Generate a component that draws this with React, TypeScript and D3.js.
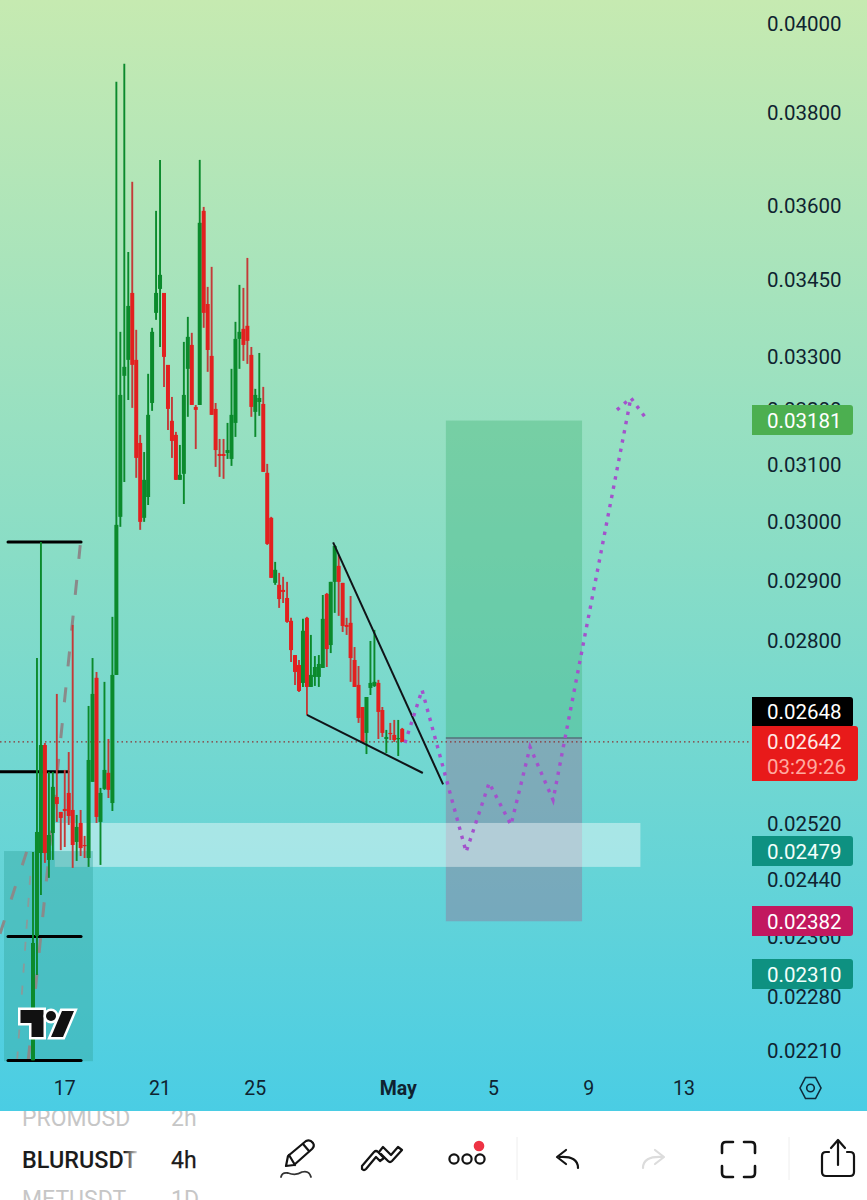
import React from "react";
import * as d3 from "d3";

// Prices are in millionths (0.026420 => 26420). One 4h candle per index.
const PRICE_UNIT = 1e-6;
const opens = [21982,23619,24778,26373,24679,25066,25593,25373,25417,25653,25402,24937,25212,24893,24707,25818,27417,25227,25713,25953,25504,27463,30089,32643,32945,34244,32945,31401,30072,30436,32135,33852,34324,34244,32850,31805,31548,30739,30846,32775,33231,32062,32098,35907,34026,33021,32025,31202,31202,31220,31113,31767,33347,33541,33600,33040,31970,32153,32117,30864,30072,28963,28930,28845,28711,28335,27780,27621,27336,28384,27273,27431,27431,27574,28778,27941,28980,29249,28963,28267,28302,27701,27305,26959,26558,27257,27289,27336,26912,26465,26558,26527,26465,26620];
const highs = [24792,27732,29656,26404,25968,25968,27163,25373,25996,26266,28268,25329,25402,25024,26975,27732,27510,25728,27353,26465,28400,38685,33483,39090,35064,36515,33522,31548,31237,32681,33561,35907,36980,34244,32850,32247,31603,31365,33289,33774,33464,32098,36980,35989,34364,34764,32135,31474,31474,31767,32775,33677,34404,34344,34944,33192,32398,33077,32435,31024,30089,29316,29131,29064,28980,28384,27780,27701,28367,28400,28105,27764,27780,28761,28795,28980,29605,29434,28963,28384,28744,27909,27605,26959,27115,28007,28187,27385,26959,26604,26712,26758,26758,26635];
const lows = [21982,23092,24184,24637,24425,24679,25227,24820,24864,25183,24566,24665,24735,24707,24580,25818,25212,24608,25698,25578,25387,27463,29916,30703,32190,32044,30775,29864,30002,30296,31989,33716,33192,32435,31639,31131,30739,30739,30313,31879,32098,31291,32098,33561,32718,31915,30970,30792,30757,31113,30988,31511,32775,32926,32869,31879,31511,31897,30881,29605,29047,28930,28547,28628,28302,27669,27305,27194,27273,26835,27273,27289,27273,27574,27589,27812,28465,28416,28153,28105,27353,27273,26712,26404,26236,27146,27273,26465,26496,26251,26450,26419,26206,26419];
const closes = [23523,25081,26373,24778,25037,25743,25490,25285,25387,25314,24893,25154,24849,24878,26146,27163,25300,25653,25996,25698,27463,29950,32285,32813,33988,32850,31131,30002,30739,31915,33483,34244,34604,33002,32025,31438,30739,30828,32285,33386,32098,32007,35660,33852,33134,31915,31273,31166,31166,31273,31915,33347,33483,33231,33309,32062,32285,32228,30881,29622,29047,29182,28694,28811,28318,27860,27510,27210,28172,27273,27463,27589,27637,28367,27876,28980,29587,28980,28251,28235,27732,27273,26789,26404,27115,27336,27353,26882,26558,26496,26542,26450,26480,26419];

const axisTicks = [0.04,0.038,0.036,0.0345,0.033,0.032,0.031,0.03,0.029,0.028,0.0252,0.0244,0.0236,0.0228,0.0221];
const dateTicks = [
  { i: 8, label: "17", bold: false },
  { i: 32, label: "21", bold: false },
  { i: 56, label: "25", bold: false },
  { i: 92, label: "May", bold: true },
  { i: 116, label: "5", bold: false },
  { i: 140, label: "9", bold: false },
  { i: 164, label: "13", bold: false },
];
const lastPrice = 0.02642;
const target = 0.03181, entry = 0.02648, stop = 0.02382;
const positionSpan = [104, 138.3];
const zoneSpan = [5.5, 153];
const zonePrices = [0.025212, 0.02458];
const boxSpan = [-7.3, 15.1];
const boxPrices = [0.024806, 0.02197];
const fibLevels = [
  { p: 0.029656, i0: -6.3, i1: 12.1 },
  { p: 0.025968, i0: -8.4, i1: 8.8 },
  { p: 0.023612, i0: -6.3, i1: 12.1 },
  { p: 0.02198, i0: -6.3, i1: 12.1 },
];
const trendUpper = [[75.6, 0.02965], [103.3, 0.02578]];
const trendLower = [[69, 0.026835], [98.2, 0.02595]];
const grayThick = [[-8.3, 0.02365], [-1.3, 0.02485], [1.6, 0.02490]];
const grayMain = [[-1.2, 0.02198], [11.9, 0.02960]];
const grayThin = [[-4, 0.02198], [-0.5, 0.0246]];
const purplePath = [[93.7,0.026404],[98,0.027226],[109.1,0.024792],[114.9,0.025803],[120.4,0.025183],[125.2,0.026342],[131,0.025548],[150.6,0.032228]];
const purpleArrow = [[147.1,0.032007],[150.6,0.032228],[154.7,0.031824]];
const priceTags = [
  { text: "0.03181", top: 405, h: 30, w: 101, color: "#4caf50", textColor: "#fff" },
  { text: "0.02479", top: 836, h: 30, w: 101, color: "#0e9181", textColor: "#f2fffb" },
  { text: "0.02382", top: 906, h: 30, w: 101, color: "#c2185f", textColor: "#fff" },
  { text: "0.02310", top: 959, h: 30, w: 101, color: "#0e9181", textColor: "#f2fffb" },
];

const W = 867, H = 1200, PANE_BOTTOM = 1111;
const FONT = "Roboto, sans-serif";

const x = d3.scaleLinear().domain([0, 93]).range([33, 402.2]);
const y = d3.scaleLog().domain([0.0221, 0.04]).range([1051, 24]);
const lineGen = d3.line<number[]>().x((d) => x(d[0])).y((d) => y(d[1]));
const UP = "#0b8a2c", DOWN = "#e2201f", DOWN_WICK = "#c43a38";

function Candles() {
  return (
    <g>
      {opens.map((o, i) => {
        const c = closes[i];
        const up = c >= o;
        const yTop = y(Math.max(o, c) * PRICE_UNIT);
        const yBot = y(Math.min(o, c) * PRICE_UNIT);
        return (
          <g key={i}>
            <line x1={x(i)} x2={x(i)} y1={y(highs[i] * PRICE_UNIT)} y2={y(lows[i] * PRICE_UNIT)}
              stroke={up ? UP : DOWN_WICK} strokeWidth={1.9} />
            <rect x={x(i) - 2} width={4} y={yTop} height={Math.max(yBot - yTop, 1.2)} fill={up ? UP : DOWN} />
          </g>
        );
      })}
    </g>
  );
}

function tagPath(x0: number, top: number, w: number, h: number, r = 3) {
  const p = d3.path();
  p.moveTo(x0, top);
  p.lineTo(x0 + w - r, top);
  p.quadraticCurveTo(x0 + w, top, x0 + w, top + r);
  p.lineTo(x0 + w, top + h - r);
  p.quadraticCurveTo(x0 + w, top + h, x0 + w - r, top + h);
  p.lineTo(x0, top + h);
  p.closePath();
  return p.toString();
}

function Toolbar() {
  const s = { fill: "none", stroke: "#131313", strokeWidth: 2.2, strokeLinecap: "round" as const, strokeLinejoin: "round" as const };
  return (
    <g>
      <g {...s}>
        <path d="M286 1166 L288 1156 L306 1141 Q310 1139 313 1143 Q315 1146 312 1149 L294 1165 Z" />
        <path d="M289 1155 L295 1165 M303 1144 L309 1151" />
        <path d="M281 1177 Q282 1172 288 1173 Q296 1176 302 1172 Q309 1170 311 1177" strokeWidth={1.8} stroke="#333" />
      </g>
      <g {...s}>
        <path d="M362 1166 L374 1152 Q376 1150 378 1152 L384 1158 L380 1161 L376 1157 L366 1169 Q364 1171 362 1169 Z" />
        <path d="M379 1152 L383 1147 L391 1155 L398 1147 L402 1150 L392 1161 Q390 1163 388 1161 L381 1154" />
      </g>
      <g {...s}>
        {[454, 467, 480].map((cx) => <circle key={cx} cx={cx} cy={1159} r={4.6} />)}
      </g>
      <circle cx={479} cy={1146} r={5.3} fill="#ee3344" />
      <line x1={517} x2={517} y1={1137} y2={1180} stroke="#eeeeee" strokeWidth={1} />
      <g {...s}>
        <path d="M578 1168 Q578 1156 560 1157 M566 1150 L557 1157 L566 1164" />
      </g>
      <g {...s} stroke="#dcdcdc">
        <path d="M643 1168 Q643 1156 662 1157 M655 1150 L664 1157 L655 1164" />
      </g>
      <g {...s} strokeWidth={2.6}>
        <path d="M722 1153 V1146 Q722 1142 726 1142 H733 M744 1142 H751 Q755 1142 755 1146 V1153 M755 1166 V1173 Q755 1177 751 1177 H744 M733 1177 H726 Q722 1177 722 1173 V1166" />
      </g>
      <line x1={789} x2={789} y1={1137} y2={1180} stroke="#eeeeee" strokeWidth={1} />
      <g {...s}>
        <path d="M838 1165 V1141 M831 1148 L838 1140 L845 1148" />
        <path d="M829 1152 H826 Q822 1152 822 1156 V1172 Q822 1176 826 1176 H850 Q854 1176 854 1172 V1156 Q854 1152 850 1152 H847" />
      </g>
    </g>
  );
}

export default function App() {
  return (
    <svg width={W} height={H} viewBox={`0 0 ${W} ${H}`} style={{ position: "absolute", left: 0, top: 0, background: "#fff" }}
      fontFamily={FONT}>
      <defs>
        <linearGradient id="bg" x1="0" y1="0" x2="0" y2="1">
          <stop offset="0" stopColor="#c6eab1" />
          <stop offset="0.5" stopColor="#89ddc6" />
          <stop offset="1" stopColor="#4acde4" />
        </linearGradient>
        <linearGradient id="fadeSym" gradientUnits="userSpaceOnUse" x1="124" x2="139" y1="0" y2="0">
          <stop offset="0" stopColor="#1b1b1b" />
          <stop offset="1" stopColor="#1b1b1b" stopOpacity="0.08" />
        </linearGradient>
      </defs>

      {/* watchlist behind the chart pane */}
      <g fontSize={23} fill="#b9b9b9" opacity={0.8}>
        <text x={22} y={1126}>PROMUSD</text>
        <text x={171} y={1126}>2h</text>
        <text x={22} y={1207}>METUSDT</text>
        <text x={171} y={1207}>1D</text>
      </g>
      <text x={22} y={1168} fontSize={23.4} fontWeight={500} fill="url(#fadeSym)">BLURUSDT</text>
      <text x={171} y={1168} fontSize={23} fill="#1b1b1b" stroke="#1b1b1b" strokeWidth={0.25}>4h</text>

      <rect x={0} y={0} width={W} height={PANE_BOTTOM} fill="url(#bg)" />

      <g fontSize={20.5} fill="#0f2330" dominantBaseline="central">
        {axisTicks.map((t) => (
          <text key={t} x={767} y={y(t)}>{t.toFixed(5)}</text>
        ))}
      </g>

      {/* long position */}
      <rect x={x(positionSpan[0])} width={x(positionSpan[1]) - x(positionSpan[0])} y={y(target)} height={y(entry) - y(target)}
        fill="#41b477" fillOpacity={0.38} />
      <rect x={x(positionSpan[0])} width={x(positionSpan[1]) - x(positionSpan[0])} y={y(entry)} height={y(stop) - y(entry)}
        fill="#8c7fa0" fillOpacity={0.5} />
      <line x1={x(positionSpan[0])} x2={x(positionSpan[1])} y1={y(entry)} y2={y(entry)} stroke="#55707a" strokeWidth={1.5} />

      {/* demand zone */}
      <rect x={x(zoneSpan[0])} width={x(zoneSpan[1]) - x(zoneSpan[0])} y={y(zonePrices[0])} height={y(zonePrices[1]) - y(zonePrices[0])}
        fill="#ffffff" fillOpacity={0.42} />
      {/* box */}
      <rect x={x(boxSpan[0])} width={x(boxSpan[1]) - x(boxSpan[0])} y={y(boxPrices[0])} height={y(boxPrices[1]) - y(boxPrices[0])}
        fill="#35a6a0" fillOpacity={0.42} />

      {/* gray dashed */}
      <path d={lineGen(grayThick) ?? ""} fill="none" stroke="#8a8a8a" strokeWidth={3} strokeDasharray="14 22" />
      <path d={lineGen(grayMain) ?? ""} fill="none" stroke="#8a8a8a" strokeWidth={3} strokeDasharray="15 21" />
      <path d={lineGen(grayThin) ?? ""} fill="none" stroke="#8a9a9a" strokeWidth={1.8} strokeDasharray="9 13" />

      {/* last price line */}
      <line x1={0} x2={750} y1={y(lastPrice)} y2={y(lastPrice)} stroke="#8a3232" strokeWidth={1.2} strokeDasharray="1.5 3" />

      {fibLevels.map((l) => (
        <line key={l.p} x1={x(l.i0)} x2={x(l.i1)} y1={y(l.p)} y2={y(l.p)} stroke="#000" strokeWidth={3} strokeLinecap="round" />
      ))}

      <Candles />

      {/* wedge */}
      <path d={lineGen(trendUpper as number[][]) ?? ""} fill="none" stroke="#101418" strokeWidth={2} />
      <path d={lineGen(trendLower as number[][]) ?? ""} fill="none" stroke="#101418" strokeWidth={2} />

      {/* projected path */}
      <path d={lineGen(purplePath) ?? ""} fill="none" stroke="#a352cc" strokeWidth={3.4} strokeDasharray="3.4 6" />
      <path d={lineGen(purpleArrow) ?? ""} fill="none" stroke="#a352cc" strokeWidth={3.4} strokeDasharray="3.4 6" />

      {/* TV logo */}
      <g fill="#111" stroke="#fff" strokeWidth={5} strokeLinejoin="miter" style={{ paintOrder: "stroke" }}>
        <path d="M20.5 1010 H43.5 V1037 H31.5 V1023 H20.5 Z" />
        <circle cx={51} cy={1016} r={5} />
        <path d="M62 1011 H74 L63 1037 H51 Z" />
      </g>

      {/* tags */}
      <path d={tagPath(752, 697, 101, 30)} fill="#000" />
      <text x={767} y={712} fontSize={20.5} fill="#fff" dominantBaseline="central">{entry.toFixed(5)}</text>
      <path d={tagPath(752, 726, 106, 55)} fill="#e81a1a" />
      <text x={767} y={742} fontSize={20.5} fill="#ffe9e6" dominantBaseline="central">{lastPrice.toFixed(5)}</text>
      <text x={767} y={767} fontSize={20.5} fill="#ffaaa0" dominantBaseline="central">03:29:26</text>
      {priceTags.map((t) => (
        <g key={t.text}>
          <path d={tagPath(752, t.top, t.w, t.h)} fill={t.color} />
          <text x={767} y={t.top + 15.5} fontSize={20.5} fill={t.textColor} dominantBaseline="central">{t.text}</text>
        </g>
      ))}

      <g fontSize={19.5} fill="#0f2330" textAnchor="middle" dominantBaseline="central">
        {dateTicks.map((t) => (
          <text key={t.label} x={x(t.i)} y={1088} fontWeight={t.bold ? 700 : 400}>{t.label}</text>
        ))}
      </g>
      <g fill="none" stroke="#0f2a3a" strokeWidth={1.6}>
        <path d="M800 1088 L805.5 1077.5 H815.5 L821 1088 L815.5 1098.5 H805.5 Z" />
        <circle cx={810.5} cy={1088} r={3.8} />
      </g>

      <Toolbar />
    </svg>
  );
}
